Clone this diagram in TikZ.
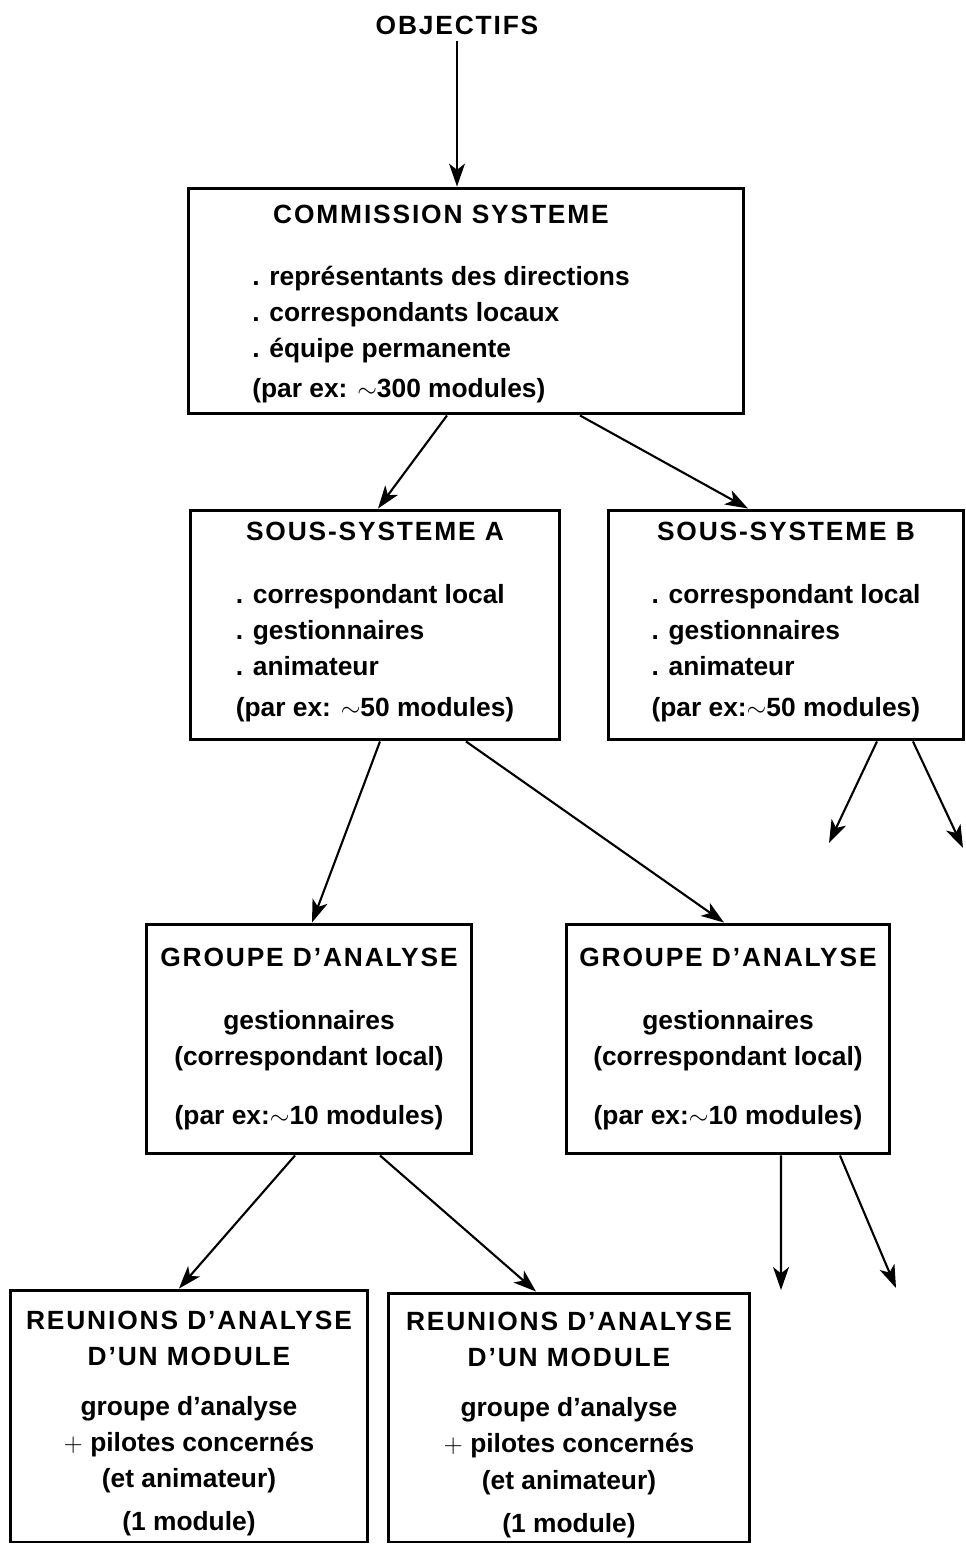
\documentclass[tikz,border=0pt]{standalone}
\usepackage{fontspec}
\setmainfont{Liberation Sans}
\newfontfamily\titlefont{Liberation Sans}[LetterSpace=7]
\usepackage{tikz}
\usetikzlibrary{positioning, calc, arrows.meta}

\begin{document}
\begin{tikzpicture}[x=0.02cm, y=-0.02cm,
    box/.style={draw, line width=1.7pt, align=center, inner sep=0pt},
    flow/.style={line width=1.2pt, -{Stealth[length=13pt, width=9pt, inset=3.5pt]}},
    font=\bfseries\fontsize{15}{20.5}\selectfont]

    \useasboundingbox (0,0) rectangle (966,1544);

    % --- Top: objectives ---
    \node (obj) at (457,25) {\titlefont OBJECTIFS};

    % --- Commission ---
    \node[box, minimum width=11.12cm, minimum height=4.52cm] (comm) at (466,301)
        {\rule{0pt}{17pt}{\titlefont COMMISSION SYSTEME}\hspace*{1.0cm}\\[15pt]
         \begin{tabular}[t]{@{}l@{\hspace{1.0cm}}}
         . représentants des directions\\
         . correspondants locaux\\
         . équipe permanente\\[2pt]
         (par ex: $\sim$300 modules)
         \end{tabular}};

    % --- Sub-systems A and B ---
    \node[box, minimum width=7.4cm, minimum height=4.6cm] (subA) at (375,625)
        {{\titlefont SOUS-SYSTEME A}\\[15pt]
         \begin{tabular}[t]{@{}l@{}}
         . correspondant local\\
         . gestionnaires\\
         . animateur\\[3pt]
         (par ex: $\sim$50 modules)
         \end{tabular}};
    \node[box, minimum width=7.12cm, minimum height=4.6cm] (subB) at (786,625)
        {{\titlefont SOUS-SYSTEME B}\\[15pt]
         \begin{tabular}[t]{@{}l@{}}
         . correspondant local\\
         . gestionnaires\\
         . animateur\\[3pt]
         (par ex:$\sim$50 modules)
         \end{tabular}};

    % --- Analysis groups ---
    \node[box, minimum width=6.52cm, minimum height=4.6cm] (gaA) at (309,1039)
        {{\titlefont GROUPE D’ANALYSE}\\[15pt]
         gestionnaires\\
         (correspondant local)\\[13pt]
         (par ex:$\sim$10 modules)};
    \node[box, minimum width=6.48cm, minimum height=4.6cm] (gaB) at (728,1039)
        {{\titlefont GROUPE D’ANALYSE}\\[15pt]
         gestionnaires\\
         (correspondant local)\\[13pt]
         (par ex:$\sim$10 modules)};

    % --- Module meetings ---
    \node[box, minimum width=7.16cm, minimum height=5.04cm] (reuA) at (189,1416)
        {\rule{0pt}{19pt}{\titlefont REUNIONS D’ANALYSE}\\
         {\titlefont D’UN MODULE}\\[8pt]
         groupe d’analyse\\
         $+$ pilotes concernés\\
         (et animateur)\\[4pt]
         (1 module)};
    \node[box, minimum width=7.24cm, minimum height=4.98cm] (reuB) at (569,1417.5)
        {\rule{0pt}{19pt}{\titlefont REUNIONS D’ANALYSE}\\
         {\titlefont D’UN MODULE}\\[8pt]
         groupe d’analyse\\
         $+$ pilotes concernés\\
         (et animateur)\\[4pt]
         (1 module)};

    % --- Open ends ---
    \coordinate (openB1) at (829,843);
    \coordinate (openB2) at (963,848);
    \coordinate (openG1) at (781,1290);
    \coordinate (openG2) at (896,1288);

    % --- Arrows ---
    \draw[flow] (obj.south) -- (obj.south |- comm.north);
    \draw[flow] ([xshift=-0.38cm]comm.south) -- ([xshift=0.06cm]subA.north);
    \draw[flow] ([xshift=2.28cm]comm.south) -- ([xshift=-0.76cm]subB.north);
    \draw[flow] ([xshift=0.1cm]subA.south) -- ([xshift=0.06cm]gaA.north);
    \draw[flow] ([xshift=1.82cm]subA.south) -- ([xshift=-0.08cm]gaB.north);
    \draw[flow] ([xshift=1.82cm]subB.south) -- (openB1);
    \draw[flow] ([xshift=2.54cm]subB.south) -- (openB2);
    \draw[flow] ([xshift=-0.28cm]gaA.south) -- ([xshift=-0.2cm]reuA.north);
    \draw[flow] ([xshift=1.42cm]gaA.south) -- ([xshift=-0.66cm]reuB.north);
    \draw[flow] ([xshift=1.06cm]gaB.south) -- (openG1);
    \draw[flow] ([xshift=2.24cm]gaB.south) -- (openG2);

\end{tikzpicture}
\end{document}
